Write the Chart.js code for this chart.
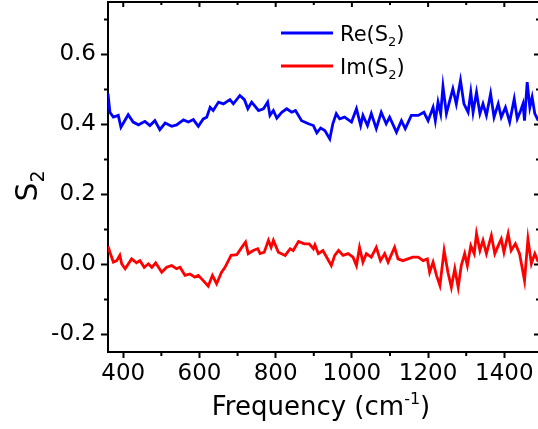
<!DOCTYPE html>
<html>
<head>
<meta charset="utf-8">
<script src="https://cdn.jsdelivr.net/npm/chart.js@4.4.1/dist/chart.umd.min.js"></script>
<style>
    html, body { margin: 0; padding: 0; background: #fff; }
    #wrap { width: 538px; height: 429px; overflow: hidden; position: relative; }
    #chartS2 { position: absolute; left: 0; top: 0; }
</style>
</head>
<body>
<div id="wrap"><canvas id="chartS2" width="545" height="429"></canvas></div>
<script>
const FONT = "DejaVu Sans";

const xTicks = [400, 600, 800, 1000, 1200, 1400];
const xMinorTicks = [500, 700, 900, 1100, 1300, 1500];
const yTicks = [-0.2, 0.0, 0.2, 0.4, 0.6];
const yMinorTicks = [-0.1, 0.1, 0.3, 0.5, 0.7];

// Re(S2) trace
const reFreq = [
    360, 365, 374, 387, 394, 413, 426, 440, 457, 470,
    483, 496, 510, 527, 540, 558, 571, 584, 597, 610,
    619, 628, 636, 650, 663, 680, 689, 706, 718, 727,
    737, 755, 768, 779, 785, 794, 803, 816, 829, 842,
    852, 868, 886, 899, 908, 918, 929, 942, 950, 959,
    968, 981, 999, 1012, 1023, 1029, 1041, 1051, 1064, 1077,
    1090, 1099, 1117, 1130, 1140, 1156, 1174, 1189, 1200, 1213,
    1219, 1226, 1233, 1239, 1248, 1257, 1265, 1274, 1285, 1294,
    1305, 1312, 1318, 1327, 1336, 1344, 1353, 1364, 1373, 1384,
    1392, 1403, 1414, 1426, 1434, 1443, 1449, 1453, 1460, 1467,
    1473, 1480, 1489
];
const reValues = [
    0.488, 0.435, 0.421, 0.426, 0.392, 0.428, 0.407, 0.399, 0.409, 0.397,
    0.411, 0.385, 0.404, 0.395, 0.399, 0.413, 0.407, 0.414, 0.395, 0.416,
    0.421, 0.449, 0.440, 0.464, 0.459, 0.471, 0.459, 0.483, 0.471, 0.445,
    0.464, 0.440, 0.445, 0.464, 0.426, 0.440, 0.418, 0.435, 0.445, 0.435,
    0.440, 0.411, 0.402, 0.397, 0.376, 0.390, 0.383, 0.359, 0.402, 0.431,
    0.416, 0.421, 0.407, 0.445, 0.397, 0.426, 0.397, 0.431, 0.388, 0.435,
    0.402, 0.421, 0.378, 0.411, 0.388, 0.426, 0.426, 0.435, 0.411, 0.449,
    0.411, 0.464, 0.431, 0.509, 0.431, 0.469, 0.502, 0.459, 0.526, 0.459,
    0.435, 0.492, 0.435, 0.492, 0.431, 0.459, 0.426, 0.488, 0.421, 0.459,
    0.421, 0.449, 0.407, 0.473, 0.416, 0.440, 0.459, 0.411, 0.521, 0.449,
    0.478, 0.431, 0.411
];

// Im(S2) trace
const imFreq = [
    360, 365, 374, 383, 391, 396, 405, 422, 435, 444,
    455, 466, 475, 485, 501, 514, 527, 540, 549, 562,
    575, 588, 597, 610, 623, 634, 645, 658, 667, 683,
    698, 711, 721, 728, 741, 753, 759, 770, 781, 788,
    794, 807, 825, 838, 846, 860, 875, 888, 899, 903,
    912, 924, 946, 955, 965, 977, 990, 1003, 1012, 1020,
    1029, 1038, 1051, 1064, 1075, 1086, 1095, 1112, 1121, 1134,
    1147, 1160, 1174, 1187, 1198, 1204, 1213, 1222, 1231, 1242,
    1252, 1261, 1270, 1279, 1287, 1296, 1303, 1312, 1321, 1327,
    1336, 1344, 1353, 1366, 1375, 1384, 1392, 1399, 1410, 1418,
    1429, 1440, 1453, 1462, 1471, 1480, 1489
];
const imValues = [
    0.052, 0.035, 0.007, 0.011, 0.026, 0.002, -0.012, 0.016, 0.005, 0.011,
    -0.008, 0.002, -0.008, 0.005, -0.022, -0.008, -0.003, -0.012, -0.008, -0.031,
    -0.027, -0.036, -0.031, -0.046, -0.062, -0.031, -0.055, -0.022, -0.008, 0.026,
    0.028, 0.049, 0.064, 0.031, 0.040, 0.045, 0.031, 0.035, 0.069, 0.049,
    0.069, 0.035, 0.026, 0.045, 0.040, 0.066, 0.059, 0.059, 0.045, 0.056,
    0.031, 0.040, -0.003, 0.026, 0.040, 0.026, 0.031, 0.021, -0.003, 0.049,
    0.007, 0.031, 0.021, 0.049, 0.011, 0.031, 0.007, 0.049, 0.016, 0.011,
    0.016, 0.021, 0.021, 0.011, 0.016, -0.022, 0.007, -0.031, -0.060, 0.040,
    -0.022, -0.065, -0.012, -0.065, -0.003, 0.031, -0.003, 0.054, 0.031, 0.088,
    0.040, 0.069, 0.031, 0.083, 0.031, 0.054, 0.073, 0.035, 0.088, 0.040,
    0.059, 0.031, -0.046, 0.073, 0.002, 0.031, 0.007
];

// draws text with _x / _{..} subscripts and ^x / ^{..} superscripts
function drawRich(ctx, text, x, y, size, align) {
    const re = /([_^])\{([^}]*)\}|([_^])(.)|([^_^]+)/g;
    const parts = [];
    let m;
    while ((m = re.exec(text)) !== null) {
        if (m[5] !== undefined) {
            parts.push({t: m[5], kind: ""});
        } else {
            parts.push({t: m[2] !== undefined ? m[2] : m[4], kind: m[1] || m[3]});
        }
    }
    const small = Math.round(size * 0.62);
    let total = 0;
    for (const p of parts) {
        p.size = p.kind ? small : size;
        ctx.font = `${p.size}px "${FONT}"`;
        p.w = ctx.measureText(p.t).width;
        total += p.w;
    }
    let cx = x;
    if (align === "center") cx = x - total / 2;
    if (align === "right") cx = x - total;
    ctx.textAlign = "left";
    ctx.textBaseline = "alphabetic";
    for (const p of parts) {
        ctx.font = `${p.size}px "${FONT}"`;
        let dy = 0;
        if (p.kind === "_") dy = size * 0.22;
        if (p.kind === "^") dy = -size * 0.42;
        ctx.fillText(p.t, cx, y + dy);
        cx += p.w;
    }
}

const framePlugin = {
    id: "frame",
    afterDraw(chart) {
        const {ctx, chartArea: a, scales: {x, y}} = chart;
        ctx.save();
        ctx.strokeStyle = "#000";
        ctx.fillStyle = "#000";
        ctx.lineWidth = 2;

        // top and right axis lines
        ctx.beginPath();
        ctx.moveTo(a.left - 1, a.top);
        ctx.lineTo(a.right, a.top);
        ctx.moveTo(a.right, a.top);
        ctx.lineTo(a.right, a.bottom);
        ctx.stroke();

        const tick = (x1, y1, x2, y2) => {
            ctx.beginPath();
            ctx.moveTo(x1, y1);
            ctx.lineTo(x2, y2);
            ctx.stroke();
        };

        for (const v of xTicks) {
            const px = x.getPixelForValue(v);
            tick(px, a.top, px, a.top + 5);
        }
        for (const v of xMinorTicks) {
            if (v > x.max) continue;
            const px = x.getPixelForValue(v);
            tick(px, a.top, px, a.top + 3);
            tick(px, a.bottom, px, a.bottom + 4);
        }
        for (const v of yTicks) {
            const py = y.getPixelForValue(v);
            tick(a.right, py, a.right - 5, py);
        }
        for (const v of yMinorTicks) {
            const py = y.getPixelForValue(v);
            tick(a.left, py, a.left - 4, py);
            tick(a.right, py, a.right - 3, py);
        }

        // axis titles
        drawRich(ctx, "Frequency (cm^{-1})", 321, 415, 26, "center");
        ctx.save();
        ctx.translate(37, 186);
        ctx.rotate(-Math.PI / 2);
        drawRich(ctx, "S_2", 0, 0, 30, "center");
        ctx.restore();

        // legend
        const legendY = [33, 66];
        chart.data.datasets.forEach((ds, i) => {
            const ly = legendY[i];
            ctx.strokeStyle = ds.borderColor;
            ctx.lineWidth = 3;
            tick(281, ly, 333, ly);
            ctx.fillStyle = "#000";
            drawRich(ctx, ds.label, 340, ly + 8, 21, "left");
        });
        ctx.restore();
    }
};

const toPoints = (xs, ys) => xs.map((v, i) => ({x: v, y: ys[i]}));

new Chart(document.getElementById("chartS2").getContext("2d"), {
    type: "line",
    data: {
        datasets: [
            {
                label: "Re(S_2)",
                data: toPoints(reFreq, reValues),
                borderColor: "#0000ff",
                borderWidth: 2.8,
                pointRadius: 0,
                tension: 0,
                fill: false
            },
            {
                label: "Im(S_2)",
                data: toPoints(imFreq, imValues),
                borderColor: "#ff0000",
                borderWidth: 2.8,
                pointRadius: 0,
                tension: 0,
                fill: false
            }
        ]
    },
    options: {
        responsive: false,
        animation: false,
        layout: {padding: {top: 2, right: 6, left: 0, bottom: 0}},
        plugins: {
            legend: {display: false},
            tooltip: {enabled: false}
        },
        scales: {
            x: {
                type: "linear",
                min: 360,
                max: 1491,
                afterBuildTicks: (s) => { s.ticks = xTicks.map(v => ({value: v})); },
                afterFit: (s) => {
                    s.height = 77;
                    s.paddingLeft = 0;
                    s.paddingRight = 0;
                },
                grid: {display: true, drawOnChartArea: false, drawTicks: true, tickLength: 6, tickWidth: 2, tickColor: "#000"},
                border: {display: true, color: "#000", width: 2},
                ticks: {
                    font: {family: FONT, size: 23},
                    color: "#000",
                    padding: 2,
                    maxRotation: 0,
                    autoSkip: false,
                    callback: (v) => String(v)
                }
            },
            y: {
                type: "linear",
                min: -0.25,
                max: 0.75,
                afterBuildTicks: (s) => { s.ticks = yTicks.map(v => ({value: v})); },
                afterFit: (s) => {
                    s.width = 108;
                    s.paddingTop = 0;
                    s.paddingBottom = 0;
                },
                grid: {display: true, drawOnChartArea: false, drawTicks: true, tickLength: 7, tickWidth: 2, tickColor: "#000"},
                border: {display: true, color: "#000", width: 2},
                ticks: {
                    font: {family: FONT, size: 23},
                    color: "#000",
                    padding: 5,
                    callback: (v) => v.toFixed(1)
                }
            }
        }
    },
    plugins: [framePlugin]
});
</script>
</body>
</html>
